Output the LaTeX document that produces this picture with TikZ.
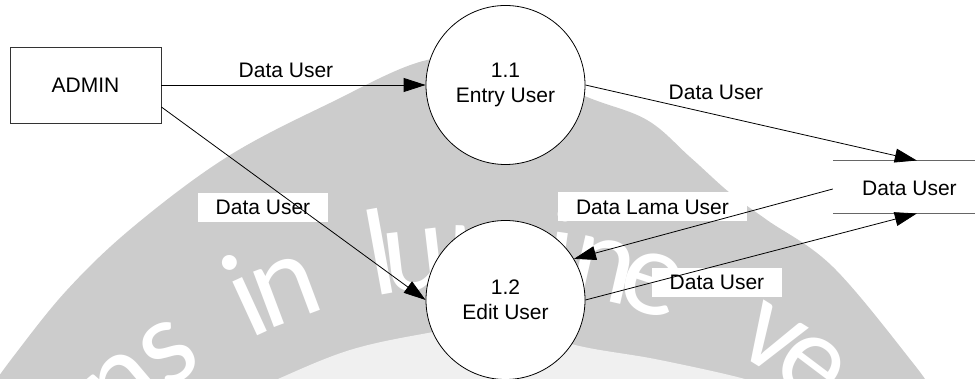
\documentclass[tikz,border=0pt]{standalone}
\usepackage{fontspec}
\setmainfont{Liberation Sans}
\newfontfamily\sealfont{Carlito}
\usetikzlibrary{arrows.meta}
\begin{document}
\begin{tikzpicture}[x=1pt,y=-1pt,
  txt/.style={font=\fontsize{21}{25}\selectfont, inner sep=0pt},
  entity/.style={txt, draw=black!80, line width=0.8pt, fill=white,
                 minimum width=151pt, minimum height=76pt},
  proc/.style={txt, circle, draw=black, line width=0.8pt, fill=white,
               minimum size=159pt, align=center},
  tag/.style={txt, fill=white, minimum height=29pt},
  flow/.style={draw=black, line width=0.8pt, -{Triangle[length=22pt,width=14pt]}},
  storeline/.style={draw=black!60, line width=1.1pt},
  wmletter/.style={text=white, font=\sealfont\fontsize{124}{124}\selectfont,
                   inner sep=0pt, anchor=base},
]
\useasboundingbox (0,0) rectangle (975,379);

% background seal: grey band with its motto
\begin{scope}
  \clip (0,0) rectangle (975,379);
  \fill[black!20] plot[smooth, tension=0.6] coordinates {
      (-12,392) (13,357) (67,290) (133,227) (227,157) (330,103) (427,60)
      (505,62) (587,97) (647,120) (690,157) (730,193) (767,220) (833,267)
      (913,363) (935,395)} -- (935,420) -- (-12,420) -- cycle;
  \fill[black!6] plot[smooth, tension=0.6] coordinates {
      (240,398) (278,379) (350,350) (428,333) (505,322) (575,345)
      (660,360) (755,382) (775,398)} -- (775,420) -- (240,420) -- cycle;
  \begin{scope}[shift={(480,806)}]
    \foreach \ang/\ch [count=\k] in {130.3/n,124.5/s,114.7/i,110.6/n,100.3/l,
        96.7/u,88.3/m,81.8/i,77.1/n,71.8/e,58.1/v,53.0/e}
      \node[wmletter, rotate=\ang-90] (wm\k) at (\ang:520pt) {\ch};
  \end{scope}
\end{scope}

% external entity, processes and data store
\node[entity] (admin) at (85.5,85) {ADMIN};
\node[proc] (p11) at (505.5,85) {1.1\\Entry User};
\node[proc] (p12) at (505.5,300) {1.2\\Edit User};
\node[minimum width=142pt, minimum height=52.6pt, inner sep=0pt] (store) at (904,187) {};
\node[txt] (storetext) at (909.5,188) {Data User};
\draw[storeline] (store.north west) -- (store.north east);
\draw[storeline] (store.south west) -- (store.south east);

% flow labels
\node[txt] (l1) at (286,70) {Data User};
\node[tag, minimum width=130pt] (l2) at (263,207.5) {Data User};
\node[tag, minimum width=189pt] (l3) at (652.5,207) {Data Lama User};
\node[txt] (l4) at (716,92.5) {Data User};
\node[tag, minimum width=130pt] (l5) at (717,282.5) {Data User};

% data flows
\draw[flow] (admin.east) -- (p11.west);
\draw[flow] ([yshift=-22pt]admin.east) -- (p12.west);
\draw[flow] (p11.east) -- ([xshift=84pt]store.north west);
\draw[flow] ([yshift=-2pt]store.west) -- (p12.31.5);
\draw[flow] (p12.east) -- ([xshift=84pt]store.south west);
\end{tikzpicture}
\end{document}
